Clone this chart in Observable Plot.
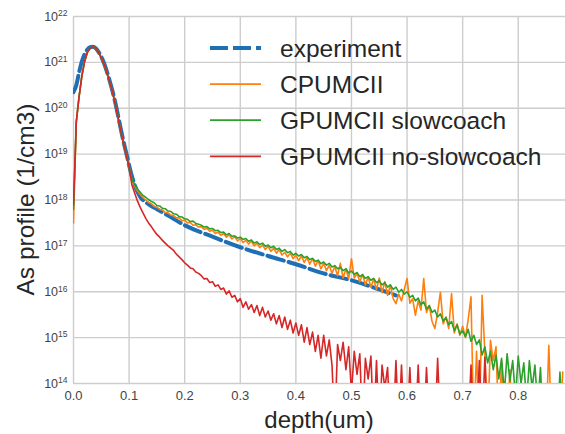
<!DOCTYPE html>
<html><head><meta charset="utf-8">
<script src="https://cdn.jsdelivr.net/npm/d3@7"></script>
<script src="https://cdn.jsdelivr.net/npm/@observablehq/plot@0.6"></script>
<style>body{margin:0;background:#fff}</style>
</head><body><div id="chart"></div>
<script>
// depth grid step for simulated series (um)
const step = 0.005;
// log10 of As concentration (1/cm3); values <=13 mean below the plotted range
const cpuLog = [17.5,19.7,20.25,20.7,21.02,21.22,21.31,21.34,21.31,21.22,
21.1,20.96,20.78,20.58,20.36,20.1,19.8,19.5,19.22,18.98,
18.72,18.43,18.3,18.2,18.12,18.05,18.00,17.95,17.92,17.86,
17.84,17.80,17.78,17.73,17.72,17.67,17.66,17.61,17.61,17.55,
17.56,17.50,17.51,17.45,17.46,17.41,17.42,17.36,17.38,17.32,
17.34,17.27,17.30,17.23,17.27,17.19,17.24,17.15,17.20,17.11,
17.16,17.07,17.12,17.04,17.10,17.00,17.06,16.96,17.02,16.92,
16.99,16.88,16.95,16.84,16.92,16.80,16.86,16.76,16.84,16.72,
16.80,16.68,16.78,16.64,16.74,16.60,16.72,16.56,16.68,16.50,
16.62,16.46,16.58,16.40,16.55,16.35,16.62,16.30,16.50,16.28,
16.72,16.30,16.40,16.22,16.38,16.15,16.32,16.10,16.28,16.05,
16.30,15.98,16.22,15.92,16.15,15.85,15.74,15.95,15.80,16.05,
16.29,15.75,15.85,15.49,15.80,15.60,16.29,15.55,15.70,15.35,
15.20,15.55,15.99,15.30,15.45,15.20,15.96,15.10,15.30,15.05,
15.25,15.00,15.40,15.89,13,14.70,13,15.92,14.66,13,
14.94,14.50,14.80,13,14.50,13,13,14.30,13,13,
13,13,13,13,13,13,13,13,13,13,
13,14.83,13,13,13,13,14.25];
const gpuSlowLog = [17.8,19.7,20.25,20.7,21.02,21.22,21.31,21.34,21.31,21.22,
21.1,20.96,20.78,20.58,20.36,20.1,19.8,19.5,19.22,18.98,
18.72,18.45,18.33,18.24,18.17,18.10,18.06,18.01,17.97,17.94,
17.88,17.87,17.82,17.81,17.76,17.75,17.70,17.69,17.64,17.63,
17.59,17.58,17.53,17.54,17.49,17.47,17.45,17.41,17.42,17.37,
17.38,17.33,17.34,17.29,17.30,17.24,17.27,17.21,17.22,17.17,
17.19,17.14,17.16,17.10,17.13,17.06,17.09,17.03,17.06,16.99,
17.02,16.96,16.99,16.92,16.95,16.88,16.92,16.85,16.88,16.80,
16.84,16.78,16.81,16.74,16.77,16.70,16.73,16.66,16.69,16.61,
16.65,16.58,16.62,16.54,16.57,16.50,16.53,16.46,16.50,16.41,
16.45,16.38,16.42,16.33,16.37,16.29,16.33,16.25,16.29,16.20,
16.24,16.15,16.20,16.10,16.15,16.05,16.10,15.99,16.05,15.95,
16.00,15.88,15.92,15.80,15.86,15.72,15.78,15.62,15.70,15.55,
15.60,15.45,15.52,15.36,15.44,15.28,15.35,15.15,15.28,15.08,
15.15,15.02,15.18,14.92,15.05,14.85,14.95,14.62,14.80,14.45,
14.70,14.30,14.62,14.10,14.55,13.8,14.65,14.05,14.50,13.7,
14.60,14.0,14.45,13.6,14.50,13.9,14.40,13.5,14.35,13,
13,13,13,13,13,14.25,13];
const gpuNoSlowLog = [17.9,19.7,20.25,20.7,21.02,21.22,21.31,21.34,21.31,21.22,
21.1,20.96,20.78,20.58,20.36,20.1,19.8,19.5,19.22,18.98,
18.72,18.33,18.15,17.98,17.84,17.72,17.60,17.50,17.42,17.33,
17.25,17.19,17.12,17.06,17.00,16.95,16.90,16.82,16.76,16.70,
16.63,16.58,16.52,16.50,16.43,16.40,16.35,16.28,16.29,16.20,
16.22,16.12,16.15,16.05,16.08,15.95,16.02,15.88,15.92,15.78,
15.85,15.66,15.78,15.62,15.72,15.55,15.70,15.48,15.66,15.45,
15.58,15.38,15.52,15.30,15.48,15.22,15.45,15.18,15.38,15.10,
15.32,15.05,15.28,14.90,15.22,14.85,15.12,14.70,15.05,14.55,
15.05,14.60,14.95,14.40,13,14.85,14.50,14.90,14.30,14.80,
13.8,14.70,14.20,14.65,13,14.55,14.10,14.60,13,14.50,
13,14.40,13.9,14.35,13,13,14.50,13,14.40,13,
13,14.35,13,13,14.40,13,13,14.35,13,13,
13,14.55,13,13,13,13,13,13,13,13,
13,13,13,14.40,13,13,14.50,13,14.57,13,
13,13,13,13,13,13,13,13,13,13,
13,13,13,13,13,13,13,13,13,13,
13,13,13,13,13,13,13];
// experiment (SIMS) profile
const expDepth = [0,0.005,0.01,0.015,0.02,0.025,0.03,0.035,0.04,0.045,0.05,0.055,0.06,0.065,0.07,0.075,0.08,0.085,0.09,0.095,0.1,0.105,0.11,0.115,0.12,0.13,0.14,0.15,0.17,0.2,0.25,0.3,0.35,0.4,0.45,0.5,0.55,0.58];
const expLog = [20.35,20.5,20.78,21.02,21.18,21.28,21.33,21.34,21.31,21.23,21.12,20.98,20.8,20.6,20.38,20.13,19.85,19.55,19.27,19.02,18.76,18.52,18.33,18.18,18.07,17.95,17.87,17.8,17.66,17.45,17.2,16.97,16.78,16.6,16.4,16.25,16.05,15.92];

const xTicks = [0,0.1,0.2,0.3,0.4,0.5,0.6,0.7,0.8];
const yTicks = [1e14,1e15,1e16,1e17,1e18,1e19,1e20,1e21,1e22];
const legendNames = ["experiment","CPUMCII","GPUMCII slowcoach","GPUMCII no-slowcoach"];
const colors = ["#1f6fb4","#ff7f0e","#2ca02c","#d62728"];

const sim = arr => arr.map((v,i) => ({x: +(i*step).toFixed(3), y: Math.pow(10, v)}));
const expData = expDepth.map((d,i) => ({x: d, y: Math.pow(10, expLog[i])}));

const svg = Plot.plot({
  width: 565, height: 434,
  marginLeft: 73, marginRight: 0, marginTop: 16, marginBottom: 51,
  style: {fontFamily: "'Liberation Sans', Arial, sans-serif", background: "#fff", overflow: "visible"},
  x: {domain: [0, 0.885]},
  y: {type: "log", domain: [1e14, 1e22]},
  marks: [
    Plot.gridX({ticks: xTicks, stroke: "#cdcdcd", strokeOpacity: 1, strokeWidth: 1.4}),
    Plot.gridY({ticks: yTicks, stroke: "#cdcdcd", strokeOpacity: 1, strokeWidth: 1.4}),
    Plot.axisX({ticks: xTicks, tickSize: 0, tickPadding: 7, tickFormat: d3.format(".1f"), fontSize: 13, fill: "#444", label: null}),
    Plot.axisY({ticks: yTicks, tickSize: 0, tickPadding: 6, tickFormat: d => String(Math.round(Math.log10(d))), fontSize: 12.5, fill: "#444", label: null}),
    Plot.line(expData, {x: "x", y: "y", stroke: colors[0], strokeWidth: 4, strokeDasharray: "17,5", curve: "monotone-x", clip: true}),
    Plot.line(sim(cpuLog), {x: "x", y: "y", stroke: colors[1], strokeWidth: 1.6, clip: true}),
    Plot.line(sim(gpuSlowLog), {x: "x", y: "y", stroke: colors[2], strokeWidth: 1.6, clip: true}),
    Plot.line(sim(gpuNoSlowLog), {x: "x", y: "y", stroke: colors[3], strokeWidth: 1.6, clip: true})
  ]
});

// superscript exponents on y ticks
d3.select(svg).selectAll('g[aria-label="y-axis tick label"] text').each(function() {
  const e = this.textContent;
  const t = d3.select(this);
  t.text(null);
  t.append("tspan").text("10");
  t.append("tspan").attr("dy", "-0.5em").attr("font-size", "8.5px").text(e);
});

const root = d3.select(svg);
root.append("text").attr("x", 319).attr("y", 428).attr("text-anchor", "middle")
  .attr("font-size", 24).attr("fill", "#262626").text("depth(um)");
root.append("text").attr("transform", "translate(34,199.5) rotate(-90)").attr("text-anchor", "middle")
  .attr("font-size", 24.5).attr("fill", "#262626").text("As profile (1/cm3)");

const lg = root.append("g").attr("text-anchor", "start");
legendNames.forEach((name, i) => {
  const y = 48 + i * 36.1;
  lg.append("line").attr("x1", 210).attr("x2", 261).attr("y1", y).attr("y2", y)
    .attr("stroke", colors[i]).attr("stroke-width", i === 0 ? 4 : 1.8)
    .attr("stroke-dasharray", i === 0 ? "18,5" : null);
  lg.append("text").attr("x", 280).attr("y", y).attr("dy", "0.35em").attr("text-anchor", "start")
    .attr("font-size", 24.5).attr("fill", "#262626").text(name);
});

document.getElementById("chart").appendChild(svg);
</script>
</body></html>
